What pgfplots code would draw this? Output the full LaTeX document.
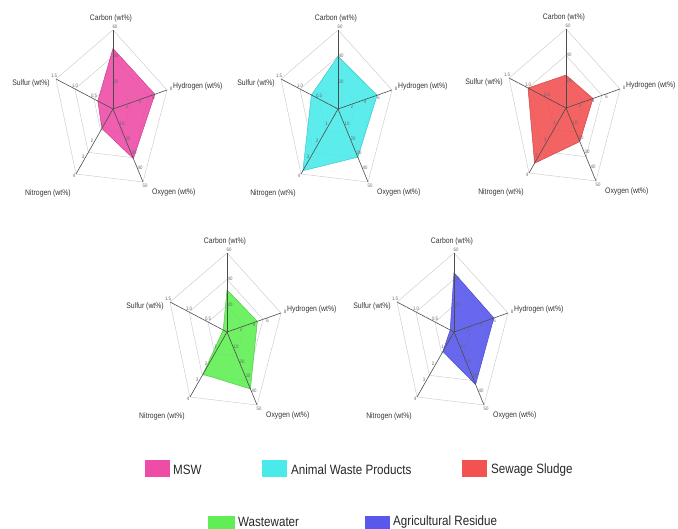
\documentclass[border=0pt]{standalone}
\usepackage{pgfplots}
\pgfplotsset{compat=1.18}
\usepackage{pgfplotstable}
\usepackage{fontspec}
\setmainfont{Liberation Sans}[FakeStretch=0.86]
\definecolor{cmsw}{RGB}{238,76,166}
\definecolor{canimal}{RGB}{74,234,234}
\definecolor{csludge}{RGB}{242,82,82}
\definecolor{cwaste}{RGB}{96,238,84}
\definecolor{cagri}{RGB}{88,88,236}
% ux uy = direction/length of each spoke (pt), max = value at spoke tip
\pgfplotstableread{
ux uy max msw animal sludge waste agri
0 79 60 46 40 25 32 45
54 19 8 6.2 5.8 4.0 4.5 5.9
30 -73 50 34 33 23 39 36
-37 -65 4 1.2 3.8 3.4 2.6 1.2
-57 30 1.5 0.4 0.7 1.0 0.1 0.1
0 79 60 46 40 25 32 45
}\radardata
\pgfplotsset{radar/.style={x=1pt,y=1pt,xmin=-80,xmax=80,ymin=-80,ymax=80,
  axis lines=none,clip=false,anchor=center}}
\tikzset{gridc/.style={draw=black!22,line width=0.4pt},
  spoke/.style={draw=black!70,line width=0.6pt},
  tl/.style={font=\fontsize{5}{6}\selectfont,text=black!60,inner sep=0pt},
  al/.style={font=\fontsize{8}{9}\selectfont,text=black!80,inner sep=0pt}}
\newcommand{\radargrid}{%
  \draw[gridc] (0,79) -- (54,19) -- (30,-73) -- (-37,-65) -- (-57,30) -- cycle;
  \draw[gridc] (0,52.67) -- (36,12.67) -- (20,-48.67) -- (-24.67,-43.33) -- (-38,20) -- cycle;
  \draw[gridc] (0,26.33) -- (18,6.33) -- (10,-24.33) -- (-12.33,-21.67) -- (-19,10) -- cycle;
}
\newcommand{\radaraxes}{%
  \draw[spoke] (0,0) -- (0,79);
  \draw[spoke] (0,0) -- (54,19);
  \draw[spoke] (0,0) -- (30,-73);
  \draw[spoke] (0,0) -- (-37,-65);
  \draw[spoke] (0,0) -- (-57,30);
  \node[tl] at (3,27) {20};
  \node[tl] at (3,53) {40};
  \node[tl] at (2,82) {60};
  \node[tl] at (14,2.5) {2};
  \node[tl] at (27,7) {4};
  \node[tl] at (40.5,11.5) {6};
  \node[tl] at (58,20) {8};
  \node[tl] at (9,-15) {10};
  \node[tl] at (15,-29.5) {20};
  \node[tl] at (21,-44) {30};
  \node[tl] at (27,-58.5) {40};
  \node[tl] at (32,-77) {50};
  \node[tl] at (-11.5,-15) {1};
  \node[tl] at (-21,-31.5) {2};
  \node[tl] at (-30,-47.5) {3};
  \node[tl] at (-39,-67) {4};
  \node[tl] at (-19,13) {0.5};
  \node[tl] at (-38,23) {1.0};
  \node[tl] at (-59,33) {1.5};
  \node[al,anchor=center] at (-2,91) {Carbon (wt\%)};
  \node[al,anchor=west] at (60,23) {Hydrogen (wt\%)};
  \node[al,anchor=west] at (39,-83) {Oxygen (wt\%)};
  \node[al,anchor=center] at (-65,-84) {Nitrogen (wt\%)};
  \node[al,anchor=east] at (-63,26) {Sulfur (wt\%)};
}
\newcommand{\radarplot}[2]{%
  \addplot[draw=#2!85!black,line width=0.5pt,fill=#2,fill opacity=0.9,mark=none]
    table[x expr={\thisrow{ux}*\thisrow{#1}/\thisrow{max}},
          y expr={\thisrow{uy}*\thisrow{#1}/\thisrow{max}}] {\radardata};}
\newfontfamily\lgfont[FakeStretch=0.86]{Liberation Sans}
\begin{document}
\begin{tikzpicture}
\useasboundingbox (0,0) rectangle (678pt,528pt);
\begin{axis}[radar,at={(113pt,419pt)}]
\radargrid
\radarplot{msw}{cmsw}
\radaraxes
\end{axis}
\begin{axis}[radar,at={(338pt,419pt)}]
\radargrid
\radarplot{animal}{canimal}
\radaraxes
\end{axis}
\begin{axis}[radar,at={(566pt,420pt)}]
\radargrid
\radarplot{sludge}{csludge}
\radaraxes
\end{axis}
\begin{axis}[radar,at={(227pt,196pt)}]
\radargrid
\radarplot{waste}{cwaste}
\radaraxes
\end{axis}
\begin{axis}[radar,at={(454pt,196pt)}]
\radargrid
\radarplot{agri}{cagri}
\radaraxes
\end{axis}
% legend
\begin{scope}[every node/.style={anchor=west,inner sep=0pt,text=black!85,font=\lgfont\fontsize{13.5}{15}\selectfont}]
\fill[cmsw] (145pt,51pt) rectangle (170pt,68pt);
\node at (173pt,58pt) {MSW};
\fill[canimal] (262pt,51pt) rectangle (287pt,68pt);
\node at (291pt,58pt) {Animal Waste Products};
\fill[csludge] (462pt,51pt) rectangle (487pt,68pt);
\node at (491pt,58pt) {Sewage Sludge};
\fill[cwaste] (208pt,-5pt) rectangle (235pt,12pt);
\node at (238pt,6pt) {Wastewater};
\fill[cagri] (365pt,-5pt) rectangle (390pt,12pt);
\node at (393pt,6pt) {Agricultural Residue};
\end{scope}
\end{tikzpicture}
\end{document}
